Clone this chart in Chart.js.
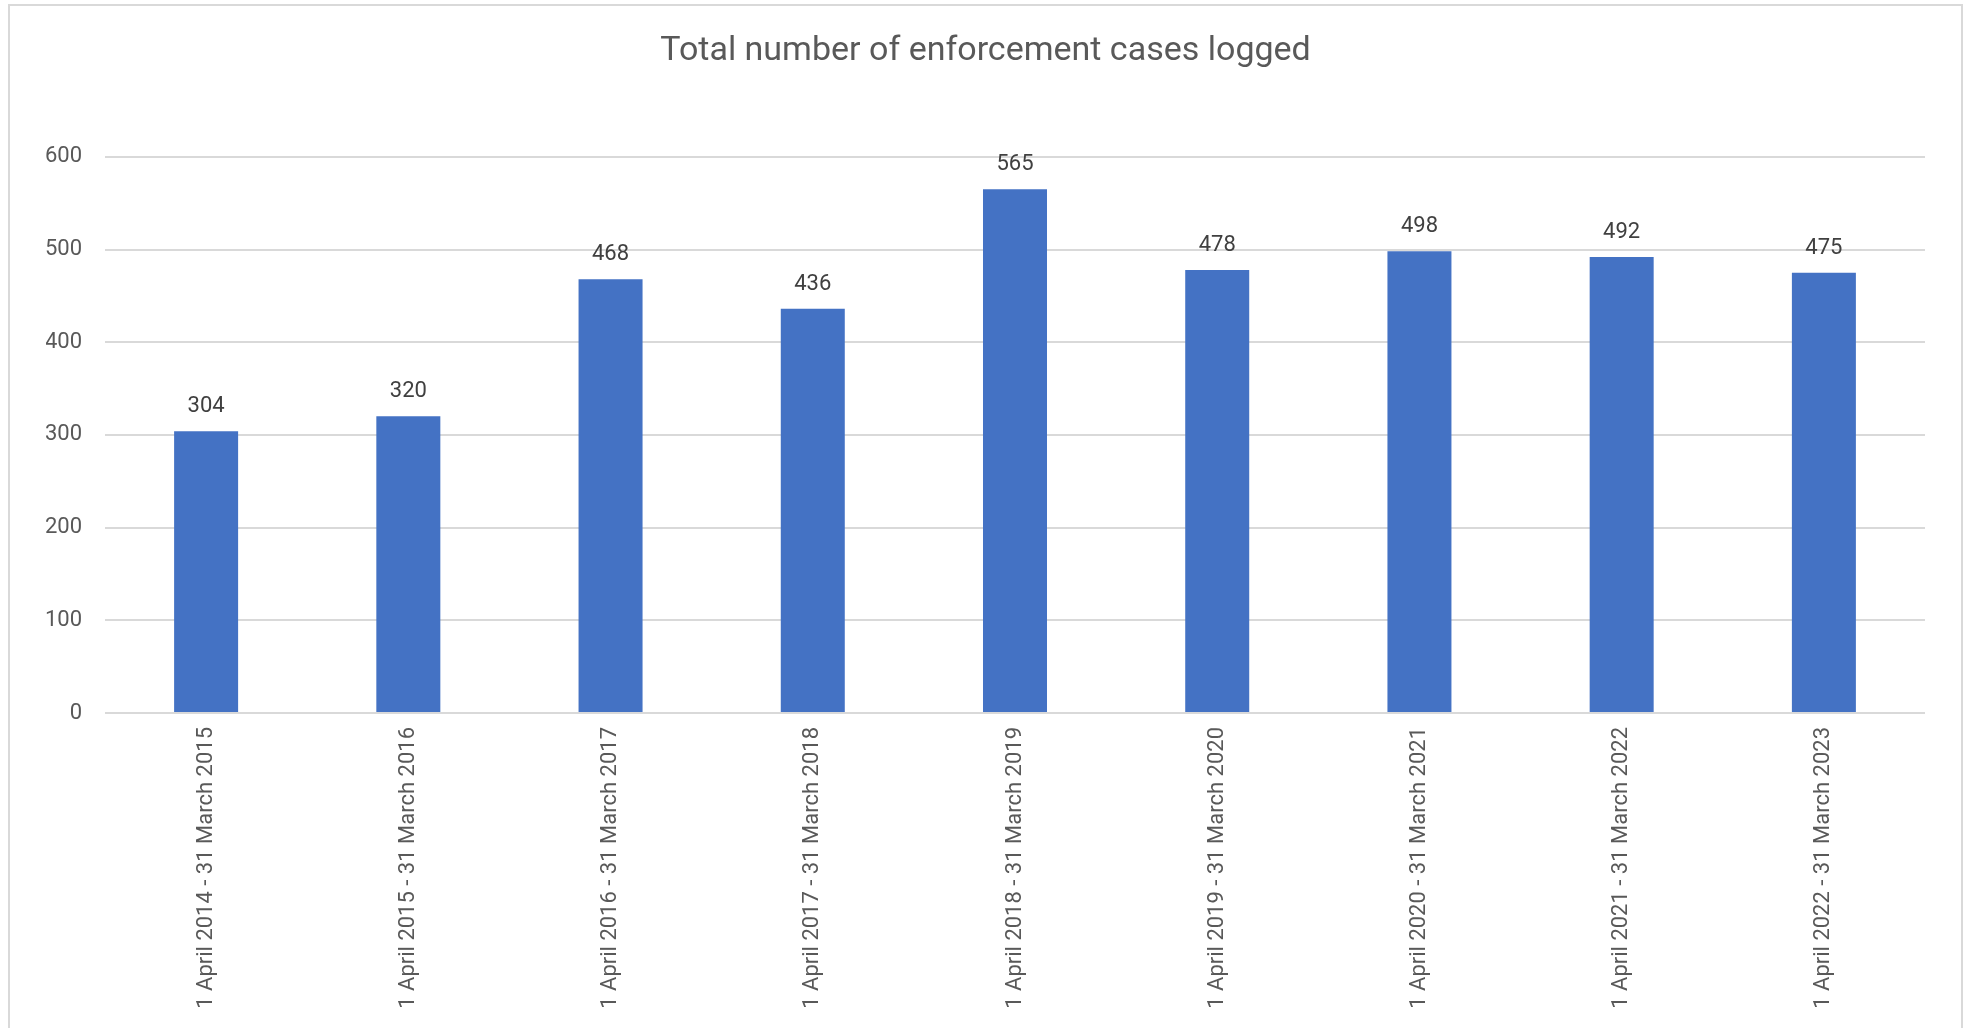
<!DOCTYPE html>
<html>
<head>
<meta charset="utf-8">
<title>Total number of enforcement cases logged</title>
<script src="https://cdn.jsdelivr.net/npm/chart.js@4.4.1/dist/chart.umd.min.js"></script>
<style>
  html, body { margin: 0; padding: 0; background: #fff; overflow: hidden; }
  #frame {
    position: absolute; left: 8px; top: 4px; width: 1955px; height: 1100px;
    border: 2px solid #d9d9d9; box-sizing: border-box;
  }
  #wrap { position: absolute; left: 0; top: 0; width: 1971px; height: 1028px; }
</style>
</head>
<body>
<div id="frame"></div>
<div id="wrap"><canvas id="casesChart"></canvas></div>
<script>
// Financial years and cases logged in each
const periods = [
  '1 April 2014 - 31 March 2015',
  '1 April 2015 - 31 March 2016',
  '1 April 2016 - 31 March 2017',
  '1 April 2017 - 31 March 2018',
  '1 April 2018 - 31 March 2019',
  '1 April 2019 - 31 March 2020',
  '1 April 2020 - 31 March 2021',
  '1 April 2021 - 31 March 2022',
  '1 April 2022 - 31 March 2023'
];
const casesLogged = [304, 320, 468, 436, 565, 478, 498, 492, 475];
const yTicks = [0, 100, 200, 300, 400, 500, 600];

const FONT = 'Roboto, "Open Sans", Arial, sans-serif';

// Writes each bar's value just above it
const valueLabels = {
  id: 'valueLabels',
  afterDatasetsDraw(chart) {
    const ctx = chart.ctx;
    const meta = chart.getDatasetMeta(0);
    ctx.save();
    ctx.font = '22px ' + FONT;
    ctx.fillStyle = '#404040';
    ctx.textAlign = 'center';
    ctx.textBaseline = 'alphabetic';
    meta.data.forEach((bar, i) => {
      ctx.fillText(String(casesLogged[i]), bar.x, bar.y - 19);
    });
    ctx.restore();
  }
};

const ctx = document.getElementById('casesChart').getContext('2d');
new Chart(ctx, {
  type: 'bar',
  data: {
    labels: periods,
    datasets: [{
      data: casesLogged,
      backgroundColor: '#4472c4',
      borderWidth: 0,
      barPercentage: 0.3165,
      categoryPercentage: 1
    }]
  },
  options: {
    responsive: true,
    maintainAspectRatio: false,
    animation: false,
    // equal side padding keeps the title centred on the canvas
    layout: { padding: { left: 46, right: 46, top: 0, bottom: 0 } },
    plugins: {
      legend: { display: false },
      tooltip: { enabled: false },
      title: {
        display: true,
        text: 'Total number of enforcement cases logged',
        color: '#595959',
        font: { family: FONT, size: 34, weight: 'normal' },
        padding: { top: 31, bottom: 85 }
      }
    },
    scales: {
      x: {
        grid: { display: false },
        border: { display: false },
        ticks: {
          color: '#595959',
          font: { family: FONT, size: 22 },
          minRotation: 90,
          maxRotation: 90,
          autoSkip: false,
          padding: 6
        },
        afterFit(scale) { scale.height = 315; }
      },
      y: {
        min: 0,
        max: 600,
        afterBuildTicks(scale) { scale.ticks = yTicks.map(v => ({ value: v })); },
        grid: { color: '#d9d9d9', lineWidth: 2, drawTicks: false },
        border: { display: false },
        ticks: {
          color: '#595959',
          font: { family: FONT, size: 22 },
          padding: 23
        },
        afterFit(scale) { scale.width = 59; }
      }
    }
  },
  plugins: [valueLabels]
});
</script>
</body>
</html>
